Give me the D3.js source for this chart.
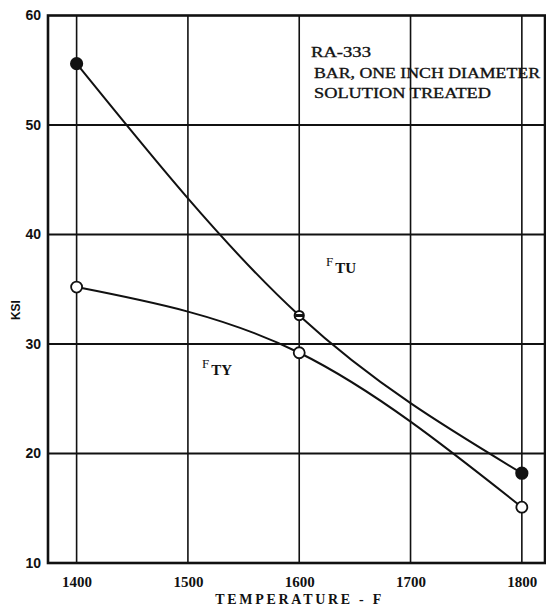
<!DOCTYPE html>
<html>
<head>
<meta charset="utf-8">
<script src="https://cdn.jsdelivr.net/npm/d3@7"></script>
<style>
  body { margin: 0; background: #fff; }
  svg { display: block; }
</style>
</head>
<body>
<div id="chart"></div>
<script>
// temperatures (F) and strength (ksi)
const temps = [1400, 1600, 1800];
const ftu = [55.6, 32.6, 18.2];
const fty = [35.2, 29.2, 15.1];
const xTicks = [1400, 1500, 1600, 1700, 1800];
const yTicks = [10, 20, 30, 40, 50, 60];
const notes = ["RA-333", "BAR, ONE INCH DIAMETER", "SOLUTION TREATED"];

const width = 546, height = 607;
const margin = {top: 15.5, right: 1, bottom: 44, left: 48};

const x = d3.scaleLinear().domain([1374.3, 1820.8])
    .range([margin.left, width - margin.right]);
const y = d3.scaleLinear().domain([10, 60])
    .range([height - margin.bottom, margin.top]);

const svg = d3.select("#chart").append("svg")
    .attr("width", width)
    .attr("height", height)
    .attr("viewBox", [0, 0, width, height]);

// grid
svg.append("g")
    .attr("stroke", "#111")
    .attr("stroke-width", 1.6)
    .selectAll()
    .data(xTicks)
    .join("line")
    .attr("x1", d => x(d)).attr("x2", d => x(d))
    .attr("y1", y(60)).attr("y2", y(10));

svg.append("g")
    .attr("stroke", "#111")
    .attr("stroke-width", 1.8)
    .selectAll()
    .data(yTicks.filter(d => d > 10 && d < 60))
    .join("line")
    .attr("x1", margin.left).attr("x2", width - margin.right)
    .attr("y1", d => y(d)).attr("y2", d => y(d));

// frame
svg.append("rect")
    .attr("x", margin.left)
    .attr("y", y(60))
    .attr("width", width - margin.right - margin.left)
    .attr("height", y(10) - y(60))
    .attr("fill", "none")
    .attr("stroke", "#111")
    .attr("stroke-width", 2.6);

// axes (labels only)
svg.append("g")
    .attr("transform", `translate(0,${y(10)})`)
    .call(d3.axisBottom(x).tickValues(xTicks).tickSize(0).tickPadding(13).tickFormat(d3.format("d")))
    .call(g => g.select(".domain").remove())
    .call(g => g.selectAll("text")
        .attr("font-family", "Liberation Serif, serif")
        .attr("font-weight", "bold")
        .attr("font-size", 15)
        .attr("fill", "#111"));

svg.append("g")
    .attr("transform", `translate(${margin.left},0)`)
    .call(d3.axisLeft(y).tickValues(yTicks).tickSize(0).tickPadding(7))
    .call(g => g.select(".domain").remove())
    .call(g => g.selectAll("text")
        .attr("font-family", "Liberation Sans, sans-serif")
        .attr("font-weight", "bold")
        .attr("font-size", 14)
        .attr("fill", "#111"));

svg.append("text")
    .attr("x", (x(1500) + x(1700)) / 2 - 1)
    .attr("y", 604)
    .attr("text-anchor", "middle")
    .attr("font-family", "Liberation Serif, serif")
    .attr("font-weight", "bold")
    .attr("font-size", 14)
    .attr("textLength", 166)
    .attr("lengthAdjust", "spacing")
    .attr("fill", "#111")
    .text("TEMPERATURE - F");

svg.append("text")
    .attr("transform", `translate(20,${y(33.1)}) rotate(-90)`)
    .attr("text-anchor", "middle")
    .attr("font-family", "Liberation Sans, sans-serif")
    .attr("font-weight", "bold")
    .attr("font-size", 12)
    .attr("fill", "#111")
    .text("KSI");

// curves
const line = d3.line()
    .x((d, i) => x(temps[i]))
    .y(d => y(d))
    .curve(d3.curveNatural);

[ftu, fty].forEach(s => {
  svg.append("path")
      .attr("d", line(s))
      .attr("fill", "none")
      .attr("stroke", "#111")
      .attr("stroke-width", 2);
});

// markers
svg.append("g")
    .selectAll()
    .data(ftu)
    .join("circle")
    .attr("cx", (d, i) => x(temps[i]))
    .attr("cy", d => y(d))
    .attr("r", (d, i) => i === 1 ? 4.6 : 5.6)
    .attr("fill", (d, i) => i === 1 ? "#fff" : "#111")
    .attr("stroke", "#111")
    .attr("stroke-width", 2);

svg.append("line")
    .attr("x1", x(temps[1]) - 4).attr("x2", x(temps[1]) + 4)
    .attr("y1", y(ftu[1])).attr("y2", y(ftu[1]))
    .attr("stroke", "#111")
    .attr("stroke-width", 3);

svg.append("g")
    .selectAll()
    .data(fty)
    .join("circle")
    .attr("cx", (d, i) => x(temps[i]))
    .attr("cy", d => y(d))
    .attr("r", 5.5)
    .attr("fill", "#fff")
    .attr("stroke", "#111")
    .attr("stroke-width", 1.8);

// series labels
function seriesLabel(px, py, sub) {
  const t = svg.append("text")
      .attr("x", px).attr("y", py)
      .attr("font-family", "Liberation Serif, serif")
      .attr("font-weight", "bold")
      .attr("font-size", 15)
      .attr("fill", "#111");
  t.append("tspan").attr("font-size", 13).attr("font-weight", "normal").text("F");
  t.append("tspan").attr("dx", 2).attr("dy", 7).text(sub);
}
seriesLabel(326, 266, "TU");
seriesLabel(202, 368, "TY");

// note block
svg.append("g")
    .selectAll()
    .data(notes)
    .join("text")
    .attr("x", (d, i) => i === 0 ? 311 : 314)
    .attr("y", (d, i) => 57 + i * 20.5)
    .attr("font-family", "Liberation Serif, serif")
    .attr("font-size", 15.5)
    .attr("fill", "#111")
    .attr("stroke", "#111")
    .attr("stroke-width", 0.35)
    .attr("lengthAdjust", "spacingAndGlyphs")
    .attr("textLength", (d, i) => [60, 226, 177][i])
    .text(d => d);
</script>
</body>
</html>
